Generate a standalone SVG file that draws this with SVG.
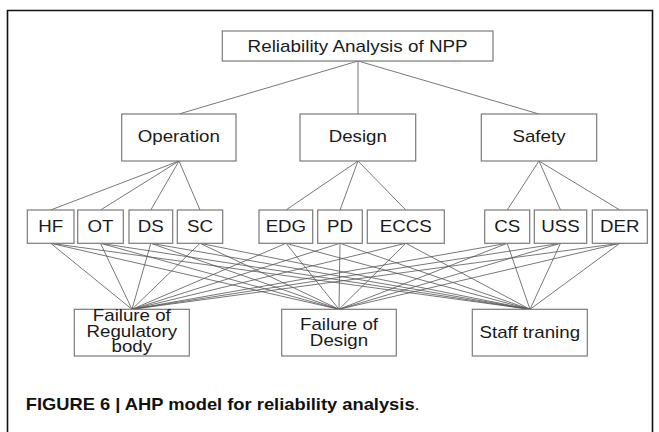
<svg xmlns="http://www.w3.org/2000/svg" width="659" height="432" viewBox="0 0 659 432">
<style>
.box{fill:#fff;stroke:#7a7a7a;stroke-width:1.2}
.lbl{font-family:"Liberation Sans",Arial,sans-serif;font-size:16px;fill:#1a1a1a;text-anchor:middle}
.conn line{stroke:#555;stroke-width:0.8}
.cap{font-family:"Liberation Sans",Arial,sans-serif;font-size:16.4px;fill:#111}
</style>
<rect x="0" y="0" width="659" height="432" fill="#fff"/>
<path d="M7.5 440 V10.5 H652.5 V440" fill="none" stroke="#111" stroke-width="1.6"/>
<g id="connectors" class="conn">
<line x1="358" y1="61" x2="179" y2="114"/>
<line x1="358" y1="61" x2="358" y2="114"/>
<line x1="358" y1="61" x2="539" y2="114"/>
<line x1="179" y1="161" x2="50.7" y2="210"/>
<line x1="179" y1="161" x2="100.5" y2="210"/>
<line x1="179" y1="161" x2="150.8" y2="210"/>
<line x1="179" y1="161" x2="200" y2="210"/>
<line x1="358" y1="161" x2="286" y2="210"/>
<line x1="358" y1="161" x2="340" y2="210"/>
<line x1="358" y1="161" x2="405.8" y2="210"/>
<line x1="539" y1="161" x2="507.2" y2="210"/>
<line x1="539" y1="161" x2="560.5" y2="210"/>
<line x1="539" y1="161" x2="619.8" y2="210"/>
<line x1="50.7" y1="243.3" x2="132" y2="309.3"/><line x1="50.7" y1="243.3" x2="339" y2="309.3"/><line x1="50.7" y1="243.3" x2="530" y2="309.3"/>
<line x1="100.5" y1="243.3" x2="132" y2="309.3"/><line x1="100.5" y1="243.3" x2="339" y2="309.3"/><line x1="100.5" y1="243.3" x2="530" y2="309.3"/>
<line x1="150.8" y1="243.3" x2="132" y2="309.3"/><line x1="150.8" y1="243.3" x2="339" y2="309.3"/><line x1="150.8" y1="243.3" x2="530" y2="309.3"/>
<line x1="200" y1="243.3" x2="132" y2="309.3"/><line x1="200" y1="243.3" x2="339" y2="309.3"/><line x1="200" y1="243.3" x2="530" y2="309.3"/>
<line x1="286" y1="243.3" x2="132" y2="309.3"/><line x1="286" y1="243.3" x2="339" y2="309.3"/><line x1="286" y1="243.3" x2="530" y2="309.3"/>
<line x1="340" y1="243.3" x2="132" y2="309.3"/><line x1="340" y1="243.3" x2="339" y2="309.3"/><line x1="340" y1="243.3" x2="530" y2="309.3"/>
<line x1="405.8" y1="243.3" x2="132" y2="309.3"/><line x1="405.8" y1="243.3" x2="339" y2="309.3"/><line x1="405.8" y1="243.3" x2="530" y2="309.3"/>
<line x1="507.2" y1="243.3" x2="132" y2="309.3"/><line x1="507.2" y1="243.3" x2="339" y2="309.3"/><line x1="507.2" y1="243.3" x2="530" y2="309.3"/>
<line x1="560.5" y1="243.3" x2="132" y2="309.3"/><line x1="560.5" y1="243.3" x2="339" y2="309.3"/><line x1="560.5" y1="243.3" x2="530" y2="309.3"/>
<line x1="619.8" y1="243.3" x2="132" y2="309.3"/><line x1="619.8" y1="243.3" x2="339" y2="309.3"/><line x1="619.8" y1="243.3" x2="530" y2="309.3"/>
</g>
<g id="root"><rect class="box" x="222.3" y="31" width="270.7" height="30"/><text class="lbl" transform="translate(357.6,51.5) scale(1.18,1)">Reliability Analysis of NPP</text></g>
<g id="operation"><rect class="box" x="121.7" y="114" width="114.3" height="47"/><text class="lbl" transform="translate(178.8,142) scale(1.17,1)">Operation</text></g>
<g id="design"><rect class="box" x="300" y="114" width="115.7" height="47"/><text class="lbl" transform="translate(357.8,142) scale(1.17,1)">Design</text></g>
<g id="safety"><rect class="box" x="481.3" y="114" width="115.4" height="47"/><text class="lbl" transform="translate(539,142) scale(1.17,1)">Safety</text></g>
<g id="hf"><rect class="box" x="27.3" y="210" width="46.7" height="33.3"/><text class="lbl" transform="translate(50.7,232) scale(1.17,1)">HF</text></g>
<g id="ot"><rect class="box" x="77.7" y="210" width="45.6" height="33.3"/><text class="lbl" transform="translate(100.5,232) scale(1.17,1)">OT</text></g>
<g id="ds"><rect class="box" x="129" y="210" width="43.7" height="33.3"/><text class="lbl" transform="translate(150.8,232) scale(1.17,1)">DS</text></g>
<g id="sc"><rect class="box" x="177.3" y="210" width="45.4" height="33.3"/><text class="lbl" transform="translate(200,232) scale(1.17,1)">SC</text></g>
<g id="edg"><rect class="box" x="259" y="210" width="53.7" height="33.3"/><text class="lbl" transform="translate(285.9,232) scale(1.17,1)">EDG</text></g>
<g id="pd"><rect class="box" x="317.7" y="210" width="44.6" height="33.3"/><text class="lbl" transform="translate(340,232) scale(1.17,1)">PD</text></g>
<g id="eccs"><rect class="box" x="367.3" y="210" width="77" height="33.3"/><text class="lbl" transform="translate(405.8,232) scale(1.17,1)">ECCS</text></g>
<g id="cs"><rect class="box" x="484.7" y="210" width="45" height="33.3"/><text class="lbl" transform="translate(507.2,232) scale(1.17,1)">CS</text></g>
<g id="uss"><rect class="box" x="534.3" y="210" width="52.4" height="33.3"/><text class="lbl" transform="translate(560.5,232) scale(1.17,1)">USS</text></g>
<g id="der"><rect class="box" x="592.3" y="210" width="55" height="33.3"/><text class="lbl" transform="translate(619.8,232) scale(1.17,1)">DER</text></g>
<g id="regulatory"><rect class="box" x="74.3" y="309.3" width="115" height="46.7"/><text class="lbl" transform="translate(131.8,321) scale(1.17,1)">Failure of</text><text class="lbl" transform="translate(131.8,336.5) scale(1.17,1)">Regulatory</text><text class="lbl" transform="translate(131.8,352) scale(1.17,1)">body</text></g>
<g id="failure-design"><rect class="box" x="281.7" y="309.3" width="114.6" height="46.7"/><text class="lbl" transform="translate(339,330) scale(1.17,1)">Failure of</text><text class="lbl" transform="translate(339,345.5) scale(1.17,1)">Design</text></g>
<g id="staff"><rect class="box" x="472.3" y="309.3" width="115" height="46.7"/><text class="lbl" transform="translate(529.8,337.5) scale(1.17,1)">Staff traning</text></g>
<text class="cap" x="25.7" y="409.5" textLength="394" lengthAdjust="spacingAndGlyphs"><tspan font-weight="bold">FIGURE 6 | AHP model for reliability analysis</tspan>.</text>
</svg>
